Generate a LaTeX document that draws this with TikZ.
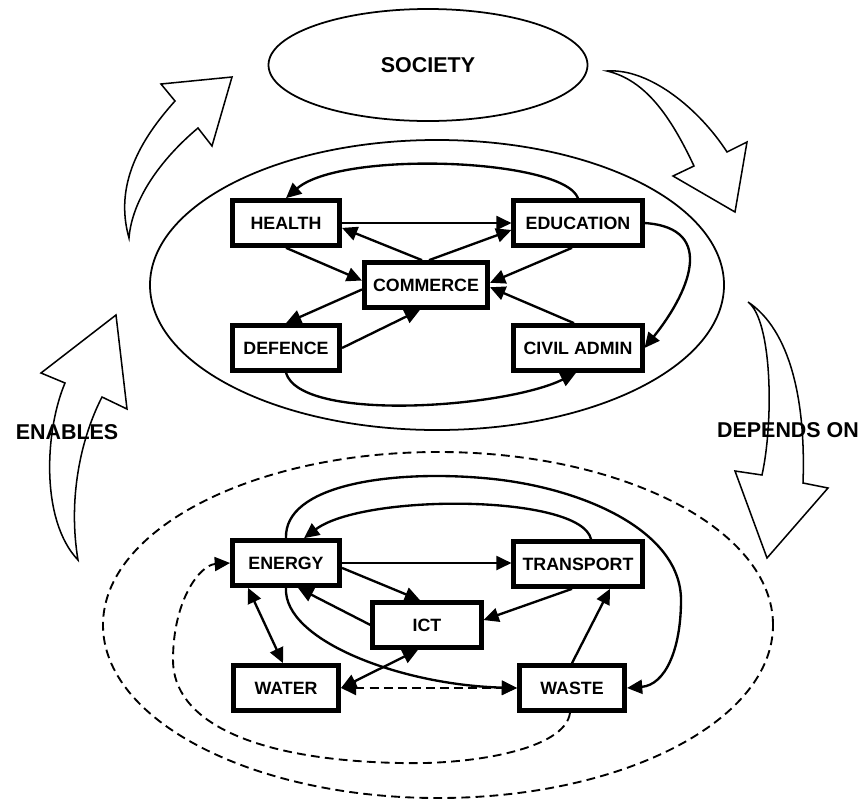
\documentclass[tikz,border=0pt]{standalone}
\usepackage{fontspec}
\setmainfont{Liberation Sans}
\usetikzlibrary{calc, positioning}
\usetikzlibrary{arrows.meta}
\usetikzlibrary{shapes.geometric}

\begin{document}
\begin{tikzpicture}[x=0.03cm,y=-0.03cm,
  sector/.style={draw,line width=4pt,minimum height=1.35cm,inner sep=2pt,
    font=\fontsize{15.2}{17}\selectfont\bfseries},
  link/.style={line width=2pt,-{Triangle[length=13pt,width=12pt]}},
  twolink/.style={line width=2pt,{Triangle[length=13pt,width=12pt]}-{Triangle[length=13pt,width=12pt]}},
  dashlink/.style={twolink,dash pattern=on 7.5pt off 4.5pt},
  bigarrow/.style={draw,line width=1.3pt,fill=white,line join=miter},
  bigword/.style={font=\fontsize{18.3}{22}\selectfont\bfseries}]
\useasboundingbox (0,0) rectangle (865,803);

\coordinate (Upper) at (437,285);
\coordinate (Lower) at (438,625);
\coordinate (LoopTop) at (483,478);
\coordinate (LoopSide) at (681,600);
\coordinate (DashBottom) at (400,763);
\coordinate (DashSide) at (173,660);

\draw[line width=1.5pt] (Upper) ellipse [x radius=8.61cm, y radius=4.35cm];
\draw[line width=1.6pt,dash pattern=on 7.5pt off 4.5pt] (Lower) ellipse [x radius=10.05cm, y radius=5.19cm];

\node[ellipse,draw,line width=1.5pt,minimum width=9.57cm,minimum height=3.36cm,bigword] (society) at (428,65) {SOCIETY};

\node[sector,minimum width=3.22cm] (health) at (286,223) {HEALTH};
\node[sector,minimum width=3.85cm] (education) at (578,223) {EDUCATION};
\node[sector,minimum width=3.7cm] (commerce) at (426,285) {COMMERCE};
\node[sector,minimum width=3.22cm] (defence) at (286,348) {DEFENCE};
\node[sector,minimum width=3.85cm] (civil) at (578,348) {CIVIL ADMIN};

\node[sector,minimum width=3.22cm] (energy) at (286,563) {ENERGY};
\node[sector,minimum width=3.85cm] (transport) at (578,564) {TRANSPORT};
\node[sector,minimum width=3.25cm] (ict) at (427,625) {ICT};
\node[sector,minimum width=3.16cm] (water) at (286,688) {WATER};
\node[sector,minimum width=3.16cm] (waste) at (572,688) {WASTE};

\draw[link] (education.north) .. controls +(-15,-40) and +(55,-48) .. (health.north);
\draw[link] (health) -- (education);
\draw[link] ($(commerce.north)+(-4,0)$) -- (health.-5);
\draw[link] ($(commerce.north)+(3,0)$) -- (education.186);
\draw[link] (health.south) -- (commerce.176);
\draw[link] (commerce.184) -- (defence.north);
\draw[link] (defence.east) -- ($(commerce.south)+(-6,0)$);
\draw[link] ($(education.south)+(-6,0)$) -- (commerce.2);
\draw[link] ($(civil.north)+(-4,0)$) -- (commerce.-2);
\draw[link] (education.east) .. controls +(75,5) and +(42,-52) .. (civil.east);
\draw[link] (defence.south) .. controls +(15,50) and +(-70,35) .. ($(civil.south)+(-2,0)$);

\draw[link] ($(transport.north)+(13,0)$) .. controls +(-10,-45) and +(60,-45) .. ($(energy.north)+(18,0)$);
\draw[link] (energy.north) .. controls (284,485) and (390,470) .. (LoopTop)
  .. controls (580,486) and (681,530) .. (LoopSide)
  .. controls (681,650) and (665,685) .. (waste.east);
\draw[link] (energy.east) -- (energy.east -| transport.west);
\draw[link] (energy.-5) -- ($(ict.north)+(-7,0)$);
\draw[link] (ict.west) -- ($(energy.south)+(12,0)$);
\draw[link] (energy.south) .. controls (283,640) and (400,685) .. (waste.west);
\draw[link] ($(transport.south)+(-6,0)$) -- (ict.5);
\draw[link] (waste.north) -- ($(transport.south)+(32,0)$);
\draw[twolink] ($(energy.south)+(-38,0)$) -- ($(water.north)+(-3,0)$);
\draw[twolink] ($(ict.south)+(-9,0)$) -- (water.east);
\draw[dashlink] (water.east) -- (waste.west);
\draw[line width=1.6pt,dash pattern=on 7.5pt off 4.5pt,-{Triangle[length=13pt,width=12pt]}]
  ($(waste.south)+(-2,0)$) .. controls (565,750) and (470,765) .. (DashBottom)
  .. controls (250,760) and (173,720) .. (DashSide)
  .. controls (173,600) and (200,565) .. (energy.west);

\draw[bigarrow] (129,238) .. controls (114,185) and (140,140) .. (175,101)
  -- (161,84) -- (232,77) -- (212,146) -- (198,128)
  .. controls (160,160) and (132,200) .. cycle;
\draw[bigarrow] (607,71) .. controls (650,68) and (700,110) .. (727,152)
  -- (747,142) -- (735,212) -- (673,176) -- (694,166)
  .. controls (670,115) and (645,80) .. cycle;
\draw[bigarrow] (748,302) .. controls (772,320) and (774,420) .. (762,475)
  -- (735,471) -- (767,558) -- (828,488) -- (803,483)
  .. controls (806,400) and (790,330) .. cycle;
\draw[bigarrow] (78,560) .. controls (40,520) and (45,430) .. (65,383)
  -- (41,373) -- (116,315) -- (127,409) -- (102,397)
  .. controls (80,440) and (68,500) .. cycle;

\node[bigword] (enables) at (67,432) {ENABLES};
\node[bigword] (depends) at (788,430) {DEPENDS ON};
\end{tikzpicture}
\end{document}
